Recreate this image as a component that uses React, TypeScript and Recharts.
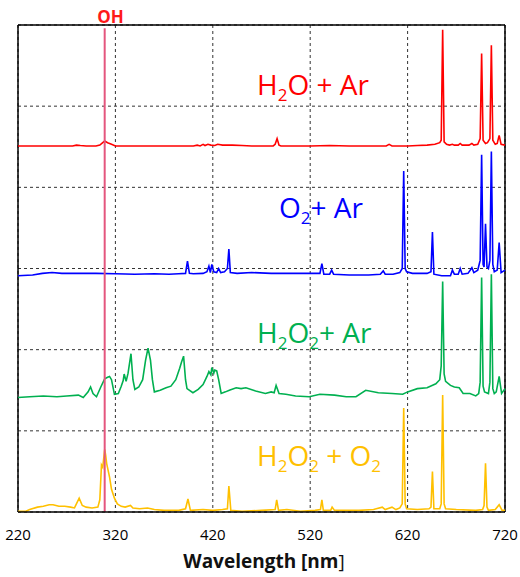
import React from "react";
import {
  LineChart,
  Line,
  XAxis,
  YAxis,
  CartesianGrid,
  ReferenceLine,
} from "recharts";

// wavelength [nm], relative intensity above each trace's own baseline
const h2oAr: [number, number][] = [
  [220, 0.01], [240, 0.01], [260, 0.01], [276, 0.01], [280, 0.02], [284, 0.015],
  [290, 0.01], [300, 0.01], [304, 0.02], [307, 0.05], [309, 0.07], [312, 0.05],
  [316, 0.03], [320, 0.01], [340, 0.01], [360, 0.01], [380, 0.01], [400, 0.01],
  [404, 0.02], [407, 0.01], [410, 0.03], [412, 0.015], [415, 0.03], [418, 0.02],
  [422, 0.015], [425, 0.03], [430, 0.02], [440, 0.02], [450, 0.015], [460, 0.01],
  [475, 0.01], [482, 0.01], [484, 0.03], [486, 0.1], [488, 0.02], [490, 0.01],
  [500, 0.01], [520, 0.01], [540, 0.015], [560, 0.01], [580, 0.01], [598, 0.01],
  [601, 0.03], [604, 0.01], [620, 0.01], [630, 0.015], [640, 0.02], [648, 0.03],
  [653, 0.05], [654.5, 0.08], [656, 1.44], [657.5, 0.06], [660, 0.03], [663, 0.02],
  [666, 0.03], [668, 0.02], [672, 0.02], [674, 0.04], [676, 0.02], [683, 0.02],
  [686, 0.04], [688, 0.02], [692, 0.03], [694.5, 0.1], [696, 1.15], [697.5, 0.08],
  [700, 0.04], [702, 0.05], [704.5, 0.1], [706, 1.25], [707.5, 0.08], [710, 0.03],
  [712, 0.04], [714, 0.14], [716, 0.03], [720, 0.02],
];

const o2Ar: [number, number][] = [
  [220, 0.01], [235, 0.02], [245, 0.04], [255, 0.05], [265, 0.04], [280, 0.04],
  [300, 0.04], [320, 0.035], [340, 0.03], [360, 0.035], [375, 0.03], [385, 0.035],
  [392, 0.04], [394, 0.19], [396, 0.04], [400, 0.035], [410, 0.04], [414, 0.06],
  [416, 0.13], [417.5, 0.05], [419, 0.15], [421, 0.06], [424, 0.05], [426, 0.1],
  [428, 0.05], [432, 0.06], [435, 0.1], [436.5, 0.34], [438, 0.05], [445, 0.04],
  [460, 0.05], [480, 0.04], [500, 0.04], [520, 0.04], [530, 0.04], [532, 0.16],
  [534, 0.03], [540, 0.03], [542, 0.08], [544, 0.03], [560, 0.02], [580, 0.02],
  [592, 0.03], [595, 0.07], [597, 0.03], [605, 0.03], [612, 0.05], [614.5, 0.1],
  [616, 1.3], [617.5, 0.1], [619, 0.06], [625, 0.04], [640, 0.04], [644, 0.06],
  [645.5, 0.55], [647, 0.03], [655, 0.01], [664, 0.01], [666, 0.08], [668, 0.03],
  [672, 0.03], [674, 0.1], [676, 0.03], [682, 0.04], [686, 0.11], [688, 0.05],
  [692, 0.08], [694.5, 0.2], [696, 1.5], [697.5, 0.15], [698.5, 0.12], [700, 0.65],
  [701.5, 0.12], [703, 0.1], [704.5, 0.2], [706, 1.54], [707.5, 0.15], [709, 0.06],
  [712, 0.08], [714, 0.42], [716, 0.05], [720, 0.08],
];

const h2o2Ar: [number, number][] = [
  [220, 0.01], [232, 0.02], [246, 0.03], [260, 0.02], [270, 0.03], [282, 0.04],
  [287, 0.01], [292, 0.08], [294.5, 0.14], [297, 0.06], [300.6, 0.02], [305, 0.14],
  [309, 0.24], [312, 0.26], [314, 0.27], [316, 0.23], [319, 0.05], [323, 0.06],
  [326, 0.15], [328, 0.22], [329, 0.3], [331, 0.21], [333, 0.31], [336, 0.55],
  [338, 0.23], [340, 0.11], [344, 0.14], [348, 0.23], [351, 0.47], [353.5, 0.62],
  [356, 0.47], [358, 0.23], [360, 0.08], [366, 0.1], [372, 0.13], [377, 0.15],
  [382, 0.23], [386, 0.37], [388, 0.45], [390, 0.52], [392, 0.23], [393.5, 0.12],
  [399.6, 0.07], [405, 0.11], [410, 0.17], [414, 0.27], [416, 0.33], [418, 0.29],
  [419, 0.38], [421, 0.31], [422, 0.35], [424, 0.34], [426, 0.23], [428.6, 0.06],
  [433, 0.08], [437, 0.1], [444, 0.13], [449, 0.12], [454, 0.13], [464, 0.09],
  [474, 0.06], [480, 0.08], [483, 0.07], [485, 0.16], [488, 0.06], [495, 0.05],
  [505, 0.03], [519, 0.02], [530, 0.05], [545, 0.04], [557, 0.02], [567, 0.02],
  [577, 0.1], [590, 0.07], [604, 0.06], [615, 0.05], [620, 0.08], [630, 0.12],
  [640, 0.13], [649, 0.18], [653, 0.23], [654.5, 0.4], [656, 1.44], [657.5, 0.3],
  [659, 0.21], [664, 0.16], [668, 0.14], [673, 0.13], [677, 0.06], [684, 0.06],
  [690, 0.03], [693, 0.06], [694.5, 0.2], [696, 1.49], [697.5, 0.15], [699, 0.08],
  [703, 0.06], [704.5, 0.2], [706, 1.53], [707.5, 0.12], [709, 0.06], [711, 0.08],
  [714, 0.27], [716.5, 0.06], [720, 0.12],
];

const h2o2O2: [number, number][] = [
  [220, 0.01], [228, 0.01], [232, 0.03], [240, 0.06], [246, 0.07], [252, 0.09],
  [256, 0.09], [262, 0.07], [268, 0.07], [274, 0.06], [278, 0.05], [282.8, 0.17],
  [286, 0.08], [290, 0.06], [296, 0.05], [302, 0.06], [304, 0.15], [305.7, 0.58],
  [307, 0.55], [309, 0.77], [310, 0.7], [311, 0.6], [314, 0.43], [316, 0.28],
  [319, 0.17], [322, 0.1], [326, 0.07], [330, 0.06], [335.5, 0.08], [338, 0.05],
  [345, 0.04], [353, 0.05], [360, 0.03], [370, 0.02], [385, 0.02], [392, 0.04],
  [394.5, 0.16], [397, 0.02], [410, 0.03], [420, 0.02], [430, 0.03], [435, 0.04],
  [436.5, 0.32], [438.5, 0.02], [450, 0.01], [470, 0.02], [484, 0.03], [485.6, 0.15],
  [487.5, 0.02], [496, 0.03], [510, 0.01], [525, 0.02], [530.5, 0.03], [532, 0.15],
  [533.5, 0.02], [541, 0.02], [542.5, 0.06], [545, 0.02], [555, 0.02], [570, 0.02],
  [585, 0.03], [594, 0.06], [597, 0.03], [604, 0.06], [608, 0.03], [612, 0.05],
  [614.5, 0.1], [616, 1.28], [617.5, 0.1], [619, 0.04], [630, 0.03], [642, 0.04],
  [644, 0.06], [645.5, 0.5], [647, 0.04], [653, 0.04], [654.5, 0.1], [656, 1.44],
  [657.5, 0.1], [659, 0.04], [670, 0.03], [690, 0.02], [697, 0.03], [698.5, 0.08],
  [700, 0.6], [701.5, 0.06], [703, 0.02], [710, 0.03], [714, 0.09], [717, 0.02],
  [720, 0.02],
];

const offsets = [4.5, 2.9, 1.4, 0];
const seriesColors = ["#ff0000", "#0000ff", "#00b050", "#ffc000"];
const xTicks = [220, 320, 420, 520, 620, 720];
const yTicks = [0, 1, 2, 3, 4, 5, 6];

const toPoints = (pairs: [number, number][], offset: number) =>
  pairs.map(([x, y]) => ({ x, y: y + offset }));

const allSeries = [h2oAr, o2Ar, h2o2Ar, h2o2O2].map((s, i) => toPoints(s, offsets[i]));

const FONT = "'Open Sans', 'Noto Sans', sans-serif";

function Labels() {
  const sub = { fontSize: 17, dy: 6 };
  const back = { dy: -6 };
  return (
    <svg
      width={520}
      height={577}
      style={{ position: "absolute", left: 0, top: 0, pointerEvents: "none" }}
      fontFamily={FONT}
    >
      <text x={110.5} y={22.5} textAnchor="middle" fontSize={17} fontWeight={700} fill="#ff1a1a">
        OH
      </text>
      <g fontSize={28} fontWeight={500}>
        <text x={257} y={95} fill={seriesColors[0]}>
          H<tspan {...sub}>2</tspan>
          <tspan {...back}>O + Ar</tspan>
        </text>
        <text x={279} y={218} fill={seriesColors[1]}>
          O<tspan {...sub}>2</tspan>
          <tspan {...back}>+ Ar</tspan>
        </text>
        <text x={257} y={343} fill={seriesColors[2]}>
          H<tspan {...sub}>2</tspan>
          <tspan {...back}>O</tspan>
          <tspan {...sub}>2</tspan>
          <tspan {...back}>+ Ar</tspan>
        </text>
        <text x={257} y={466} fill={seriesColors[3]}>
          H<tspan {...sub}>2</tspan>
          <tspan {...back}>O</tspan>
          <tspan {...sub}>2</tspan>
          <tspan {...back}> + O</tspan>
          <tspan {...sub}>2</tspan>
        </text>
      </g>
      <text x={264} y={568} textAnchor="middle" fontSize={19} fontWeight={700} fill="#111">
        Wavelength [nm<tspan fontWeight={400}>]</tspan>
      </text>
    </svg>
  );
}

export default function App() {
  return (
    <div
      style={{
        position: "absolute",
        left: 0,
        top: 0,
        width: 520,
        height: 577,
        background: "#fff",
        fontFamily: FONT,
      }}
    >
      <LineChart width={520} height={577} margin={{ top: 25, right: 15, left: 18, bottom: 0 }}>
        <CartesianGrid stroke="#333" strokeDasharray="3 3" />
        <XAxis
          dataKey="x"
          type="number"
          domain={[220, 720]}
          ticks={xTicks}
          allowDuplicatedCategory={false}
          height={65}
          tickLine={false}
          tickMargin={11}
          axisLine={{ stroke: "#000", strokeWidth: 1.5 }}
          tick={{ fontSize: 15, fill: "#000" }}
        />
        <YAxis type="number" domain={[0, 6]} ticks={yTicks} hide />
        <ReferenceLine x={220} stroke="#000" strokeWidth={1.5} />
        <ReferenceLine x={720} stroke="#000" strokeWidth={1.5} />
        <ReferenceLine y={6} stroke="#000" strokeWidth={1.5} />
        {allSeries.map((pts, i) => (
          <Line
            key={i}
            data={pts}
            dataKey="y"
            type="linear"
            stroke={seriesColors[i]}
            strokeWidth={1.6}
            dot={false}
            isAnimationActive={false}
          />
        ))}
        <ReferenceLine
          segment={[
            { x: 309, y: 0 },
            { x: 309, y: 5.96 },
          ]}
          stroke="#e4567e"
          strokeWidth={2}
        />
      </LineChart>
      <Labels />
    </div>
  );
}
